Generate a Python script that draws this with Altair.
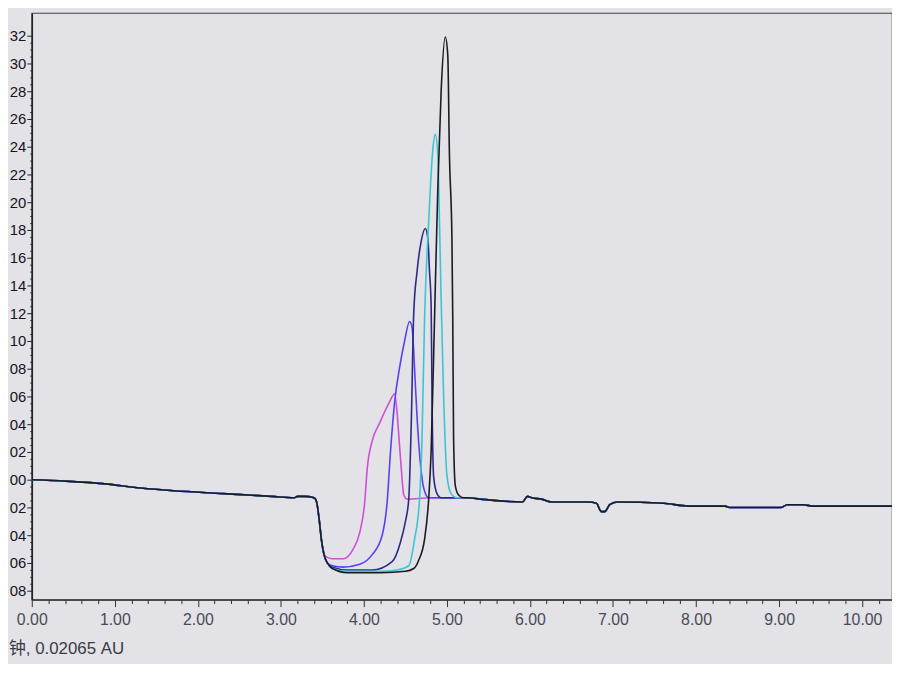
import altair as alt
import pandas as pd

# ---------------- data ----------------
SERIES = ["S1", "S2", "S3", "S4", "S5"]
COLORS = ["#cf4fd6", "#5a3ff0", "#2d2a85", "#3cc4d4", "#1c1a24"]

# common baseline before the system dip (min, AU)
PRE_T = [0.00, 0.41, 0.88, 1.31, 1.71, 2.30, 2.89, 3.16, 3.20, 3.28, 3.40, 3.43, 3.46, 3.49, 3.52]
PRE_AU = [0.0000, -0.0001, -0.0003, -0.0006, -0.0008, -0.0010, -0.0012, -0.0013, -0.0012, -0.0012,
          -0.0013, -0.0016, -0.0028, -0.0044, -0.0054]

# common baseline after the peaks
TAIL_T = [5.25, 5.40, 5.91, 5.97, 6.02, 6.14, 6.26, 6.70, 6.80, 6.86, 6.90, 6.96, 7.05, 7.61, 7.91,
          8.35, 8.40, 9.02, 9.10, 9.29, 9.40, 9.88, 10.36]
TAIL_AU = [-0.0013, -0.0014, -0.0016, -0.0012, -0.0013, -0.0014, -0.0016, -0.0016, -0.0017, -0.0023,
           -0.0023, -0.0018, -0.0016, -0.0017, -0.0019, -0.0019, -0.0020, -0.0020, -0.0018, -0.0018,
           -0.0019, -0.0019, -0.0019]

# magenta trace
S1_T = [3.56, 3.62, 3.75, 3.87, 3.95, 4.01, 4.04, 4.10, 4.19, 4.30, 4.37, 4.40, 4.42, 4.45, 4.48, 4.52, 4.80, 5.10]
S1_AU = [-0.0056, -0.0057, -0.0057, -0.0050, -0.0038, -0.0016, 0.0008, 0.0028, 0.0041, 0.0055, 0.0062,
         0.0048, 0.0032, 0.0008, -0.0011, -0.0014, -0.0013, -0.0013]

# violet-blue trace
S2_T = [3.56, 3.62, 3.75, 3.95, 4.10, 4.22, 4.28, 4.32, 4.37, 4.43, 4.49, 4.55, 4.58, 4.61, 4.64, 4.68, 4.72, 4.78, 5.10]
S2_AU = [-0.0060, -0.0062, -0.0063, -0.0061, -0.0054, -0.0040, -0.0016, 0.0020, 0.0056, 0.0081, 0.0100,
         0.0114, 0.0110, 0.0080, 0.0045, 0.0012, -0.0006, -0.0013, -0.0013]

# dark indigo trace
S3_T = [3.56, 3.62, 3.80, 4.10, 4.34, 4.44, 4.50, 4.54, 4.57, 4.60, 4.64, 4.69, 4.74, 4.77, 4.79, 4.81,
        4.82, 4.84, 4.88, 4.93, 5.10]
S3_AU = [-0.0060, -0.0063, -0.0065, -0.0065, -0.0059, -0.0045, -0.0030, -0.0014, 0.0040, 0.0120, 0.0150,
         0.0172, 0.0181, 0.0174, 0.0150, 0.0125, 0.0060, 0.0002, -0.0010, -0.0013, -0.0013]

# cyan trace
S4_T = [3.56, 3.62, 3.80, 4.20, 4.40, 4.54, 4.61, 4.67, 4.70, 4.73, 4.78, 4.83, 4.86, 4.89, 4.91, 4.93,
        4.96, 5.00, 5.05, 5.12]
S4_AU = [-0.0060, -0.0064, -0.0066, -0.0066, -0.0065, -0.0062, -0.0043, -0.0014, 0.0030, 0.0115, 0.0186,
         0.0238, 0.0249, 0.0234, 0.0186, 0.0130, 0.0060, 0.0003, -0.0010, -0.0013]

# black trace
S5_T = [3.56, 3.62, 3.80, 4.20, 4.50, 4.60, 4.66, 4.73, 4.78, 4.81, 4.85, 4.89, 4.93, 4.98, 5.01, 5.03,
        5.06, 5.07, 5.08, 5.10, 5.14, 5.20]
S5_AU = [-0.0060, -0.0064, -0.0067, -0.0067, -0.0066, -0.0064, -0.0058, -0.0043, -0.0014, 0.0021, 0.0115,
         0.0210, 0.0280, 0.0319, 0.0306, 0.0234, 0.0174, 0.0115, 0.0030, -0.0004, -0.0011, -0.0013]

MID = {"S1": (S1_T, S1_AU), "S2": (S2_T, S2_AU), "S3": (S3_T, S3_AU),
       "S4": (S4_T, S4_AU), "S5": (S5_T, S5_AU)}

# axis ticks
X_TICKS = [round(i * 0.2, 2) for i in range(0, 52)]
Y_TICKS = [round(-0.008 + i * 0.0005, 4) for i in range(0, 81)]

FOOTER = "钟, 0.02065 AU"

# ---------------- table ----------------
rows = []
for s in SERIES:
    mt, ma = MID[s]
    ts = PRE_T + mt + TAIL_T
    aus = PRE_AU + ma + TAIL_AU
    for t, a in zip(ts, aus):
        rows.append({"series": s, "t": t, "au": a})
df = pd.DataFrame(rows)

FONT = "Liberation Sans"

x_axis = alt.Axis(
    values=X_TICKS,
    labelExpr="abs(datum.value - round(datum.value)) < 0.001 ? format(datum.value, '.2f') : ''",
    tickSize={"condition": {"test": "abs(datum.value - round(datum.value)) < 0.001", "value": 7}, "value": 4},
    labelOverlap=False,
    labelFlush=False,
    labelFont=FONT,
    labelFontSize=16,
    labelColor="#4a4a55",
    labelPadding=5,
    tickColor="#333",
    domainColor="#333",
    domainWidth=1.4,
    grid=False,
    title=None,
)

# the photo shows only the last digits of each y label (the rest is off the screen edge)
y_axis = alt.Axis(
    values=Y_TICKS,
    labelExpr="abs(datum.value*500 - round(datum.value*500)) < 0.001 ? slice(format(datum.value, '.3f'), -2) : ''",
    tickSize={"condition": {"test": "abs(datum.value*500 - round(datum.value*500)) < 0.001", "value": 5}, "value": 2},
    labelOverlap=False,
    labelFlush=False,
    labelFont=FONT,
    labelFontSize=15,
    labelColor="#15151c",
    labelPadding=1,
    tickColor="#222",
    domainColor="#222",
    domainWidth=1.6,
    grid=False,
    title=None,
)

chart = (
    alt.Chart(df)
    .mark_line(strokeWidth=1.6, interpolate="monotone")
    .encode(
        x=alt.X("t:Q", scale=alt.Scale(domain=[0, 10.36], nice=False, zero=False), axis=x_axis),
        y=alt.Y("au:Q", scale=alt.Scale(domain=[-0.00864, 0.03364], nice=False, zero=False), axis=y_axis),
        color=alt.Color("series:N", scale=alt.Scale(domain=SERIES, range=COLORS), legend=None),
    )
    .properties(
        width=868,
        height=592,
        padding={"left": 24, "top": 2, "right": 0, "bottom": 62},
        autosize=alt.AutoSizeParams(type="none"),
        background="#e3e2e7",
        title=alt.TitleParams(
            text=FOOTER,
            orient="bottom",
            anchor="start",
            frame="group",
            dx=-23,
            offset=14,
            font=FONT + ", Noto Sans CJK SC",
            fontSize=17,
            fontWeight="normal",
            color="#3a3a44",
        ),
    )
    .configure_view(stroke="#444", strokeWidth=1.2)
)

chart.save("out.html", embed_options={"renderer": "svg", "actions": False})
